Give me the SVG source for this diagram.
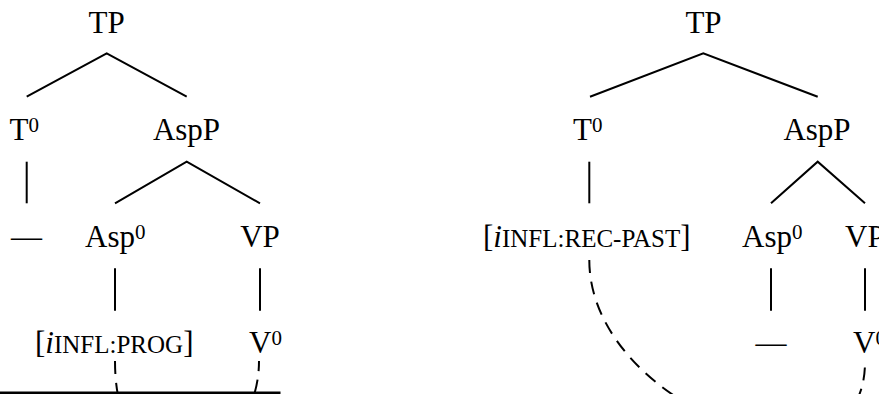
<svg xmlns="http://www.w3.org/2000/svg" width="879" height="394" viewBox="0 0 879 394">
<style>
  text { font-family: "Liberation Serif", "Times New Roman", serif; font-size: 31px; fill: #000; }
  .sup { font-size: 21px; }
  .sc { font-size: 25px; }
  .it { font-style: italic; }
  .edge { stroke: #000; stroke-width: 2; fill: none; stroke-linecap: butt; }
  .move { stroke: #000; stroke-width: 2; fill: none; stroke-dasharray: 13 8.7; }
</style>
<rect width="879" height="394" fill="#fff"/>

<!-- Left tree nodes -->
<g id="L-TP"><text x="106.7" y="33" text-anchor="middle">TP</text></g>
<g id="L-T0"><text x="9.5" y="140">T<tspan class="sup" dy="-8">0</tspan></text></g>
<g id="L-AspP"><text x="186.5" y="140" text-anchor="middle">AspP</text></g>
<g id="L-Tdash"><text x="26.5" y="246.7" text-anchor="middle">—</text></g>
<g id="L-Asp0"><text x="85" y="246.7">Asp<tspan class="sup" dy="-8">0</tspan></text></g>
<g id="L-VP"><text x="260" y="246.7" text-anchor="middle">VP</text></g>
<g id="L-feat"><text x="35" y="353">[<tspan class="it">i</tspan><tspan class="sc">INFL:PROG</tspan>]</text></g>
<g id="L-V0"><text x="249" y="353">V<tspan class="sup" dy="-8">0</tspan></text></g>

<!-- Right tree nodes -->
<g id="R-TP"><text x="703.5" y="33" text-anchor="middle">TP</text></g>
<g id="R-T0"><text x="573" y="140">T<tspan class="sup" dy="-8">0</tspan></text></g>
<g id="R-AspP"><text x="817" y="140" text-anchor="middle">AspP</text></g>
<g id="R-feat"><text x="483" y="247">[<tspan class="it">i</tspan><tspan class="sc">INFL:REC-PAST</tspan>]</text></g>
<g id="R-Asp0"><text x="742" y="247">Asp<tspan class="sup" dy="-8">0</tspan></text></g>
<g id="R-VP"><text x="845" y="247">VP</text></g>
<g id="R-Aspdash"><text x="771" y="353" text-anchor="middle">—</text></g>
<g id="R-V0"><text x="853" y="353">V<tspan class="sup" dy="-8">0</tspan></text></g>

<!-- Connectors -->
<g id="connectors">
  <path class="edge" d="M26.7,96.7 L106.7,53.3 L186.7,96.7"/>
  <path class="edge" d="M26.7,161.7 V203.3"/>
  <path class="edge" d="M115,203.3 L186.7,161.7 L260,203.3"/>
  <path class="edge" d="M115,268.3 V310.7"/>
  <path class="edge" d="M260,268.3 V310.7"/>
  <path class="move" d="M115,361 C115,511 259,471 259,361"/>

  <path class="edge" d="M590,96.7 L703.3,53.3 L817.7,96.7"/>
  <path class="edge" d="M589.3,161.7 V203.3"/>
  <path class="edge" d="M771,203.3 L817.7,161.7 L865,203.3"/>
  <path class="edge" d="M771,268.3 V310.7"/>
  <path class="edge" d="M865,268.3 V310.7"/>
  <path class="move" d="M589.3,260 C589.3,410 865,510 865,362"/>
</g>

<!-- rule at bottom -->
<rect x="0" y="391.5" width="280.5" height="2.5" fill="#000"/>
</svg>
